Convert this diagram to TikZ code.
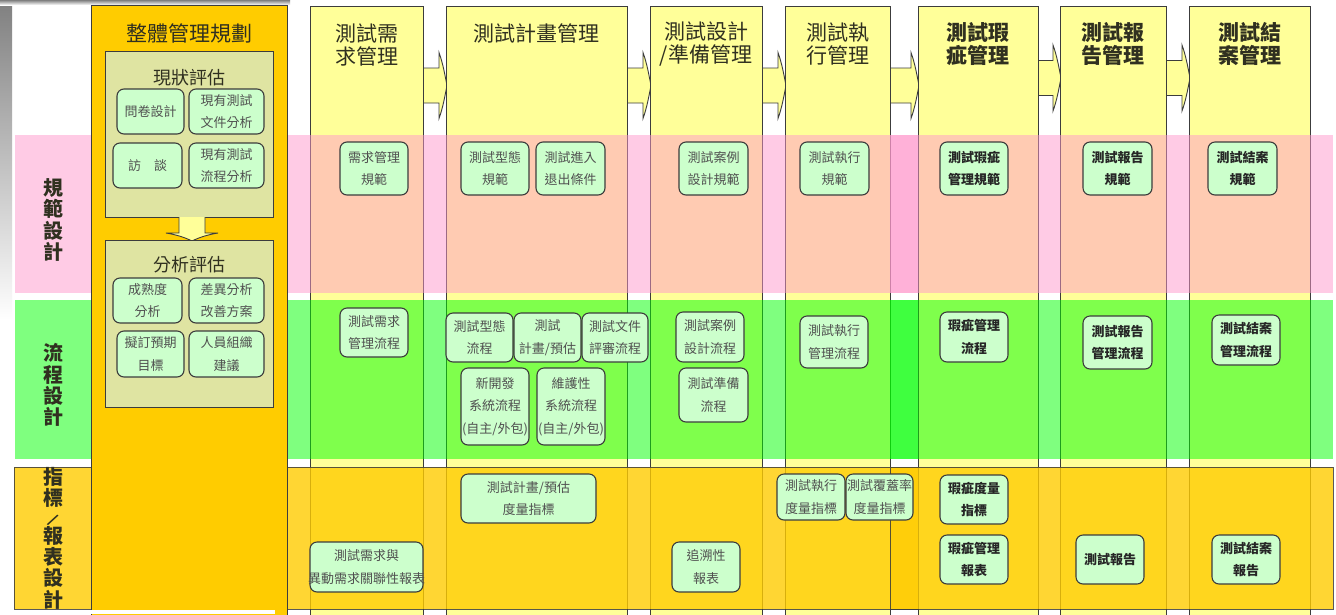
\documentclass[tikz,border=0pt]{standalone}
\usepackage{fontspec}
\usepackage{graphicx}
\setmainfont{Noto Sans CJK TC}
\definecolor{colY}{HTML}{FFFF99}
\definecolor{colO}{HTML}{FFCC00}
\definecolor{bandP}{HTML}{FF99CC}
\definecolor{bandG}{HTML}{00FF00}
\definecolor{bandO}{HTML}{FFCC00}
\definecolor{boxG}{HTML}{CCFFCC}
\definecolor{panel}{HTML}{DFE4A2}
\definecolor{edge}{HTML}{3C3C3C}
\definecolor{txt}{HTML}{505050}
\definecolor{htxt}{HTML}{303020}
\definecolor{shade}{HTML}{F0F0F0}
\newcommand{\blkarrowH}[3]{%
  \draw[fill=colY, draw=edge, line width=0.9pt]
    (#1,#3-17.5) -- (#2-7,#3-17.5) -- (#2-7,#3-33)
    .. controls (#2-3,#3-22) and (#2-1,#3-10) .. (#2+1,#3)
    .. controls (#2-1,#3+10) and (#2-3,#3+22) .. (#2-7,#3+33)
    -- (#2-7,#3+17.5) -- (#1,#3+17.5);}
\tikzset{
  colbox/.style={fill=colY, draw=edge, line width=0.9pt},
  bx/.style={rectangle, rounded corners=7pt, fill=boxG, draw=edge, line width=1.1pt,
    align=center, inner sep=0pt, font=\fontsize{13}{22.5}\selectfont, text=txt},
  bxb/.style={bx, font=\fontsize{13}{22.5}\selectfont\bfseries, text=black!85},
  hd/.style={align=center, inner sep=0pt, font=\fontsize{21}{22.5}\selectfont, text=htxt},
  hdb/.style={hd, font=\fontsize{21}{22.5}\selectfont\bfseries},
  sub/.style={align=center, inner sep=0pt, font=\fontsize{18}{20}\selectfont, text=htxt},
  rowlab/.style={align=center, inner sep=0pt, font=\fontsize{20}{21.3}\selectfont\bfseries, text=htxt},
  pnl/.style={fill=panel, draw=edge, line width=1pt},
}
\begin{document}
\begin{tikzpicture}[x=1pt, y=-1pt]
\useasboundingbox (0,0) rectangle (1336,614);
\fill[white] (0,0) rectangle (1336,614);
\fill[shade] (0,0) rectangle (12,320);
\fill[shade] (0,0) rectangle (290,5);

% block arrows between stage columns
\blkarrowH{423}{446}{85.5}
\blkarrowH{627}{650}{85.5}
\blkarrowH{762}{785}{85.5}
\blkarrowH{890}{918}{85.5}
\blkarrowH{1038}{1060}{78}
\blkarrowH{1166}{1189}{78}

% stage columns
\path[colbox] (310,6) rectangle (423,617);
\path[colbox] (446,6) rectangle (627,617);
\path[colbox] (650,6) rectangle (762,617);
\path[colbox] (785,6) rectangle (890,617);
\path[colbox] (918,6) rectangle (1038,617);
\path[colbox] (1060,6) rectangle (1166,617);
\path[colbox] (1189,6) rectangle (1310,617);

% horizontal bands (translucent)
\fill[bandP, fill opacity=0.5] (15,135) rectangle (918,293);
\fill[bandP, fill opacity=0.5] (890,135) rectangle (1333,293);
\fill[bandG, fill opacity=0.5] (15,300) rectangle (918,459);
\fill[bandG, fill opacity=0.5] (890,300) rectangle (1333,459);
\path[fill=bandO, fill opacity=0.8, draw=edge, draw opacity=0.85, line width=1pt] (14,467) rectangle (918,609);
\path[fill=bandO, fill opacity=0.8, draw=edge, draw opacity=0.85, line width=1pt] (890,467) rectangle (1333,609);

% overall planning column
\path[fill=colO, draw=edge, line width=1pt] (91,5) rectangle (287,617);
\node[hd] (h1) at (189,33) {整體管理規劃};
\path[pnl] (105,51) rectangle (273,217);
\node[sub] (s1) at (189,78) {現狀評估};
\draw[fill=colY, draw=edge, line width=0.9pt]
  (179,217) -- (179,233) -- (166,233)
  .. controls (178,235) and (186,238) .. (192,241)
  .. controls (198,238) and (206,235) .. (218,233)
  -- (205,233) -- (205,217);
\path[pnl] (105,240) rectangle (273,407);
\node[sub] (s2) at (189,265) {分析評估};

\node[bx, minimum width=67pt, minimum height=45pt] (q1) at (150.5,111.5) {問卷設計};
\node[bx, minimum width=75pt, minimum height=45pt] (q2) at (226.5,111.5) {現有測試\\文件分析};
\node[bx, minimum width=69pt, minimum height=45pt] (q3) at (147.5,165.5) {訪　談};
\node[bx, minimum width=75pt, minimum height=45pt] (q4) at (226.5,165.5) {現有測試\\流程分析};
\node[bx, minimum width=69pt, minimum height=45pt] (a1) at (147.5,300.5) {成熟度\\分析};
\node[bx, minimum width=75pt, minimum height=45pt] (a2) at (226.5,300.5) {差異分析\\改善方案};
\node[bx, minimum width=67pt, minimum height=46pt] (a3) at (150.5,354) {擬訂預期\\目標};
\node[bx, minimum width=75pt, minimum height=46pt] (a4) at (226.5,354) {人員組織\\建議};

% row labels
\node[rowlab] (r1) at (53,220) {規\\範\\設\\計};
\node[rowlab] (r2) at (53,385) {流\\程\\設\\計};
\node[rowlab] (r3) at (53,538) {指\\標\\[-2pt]\smash{\scalebox{0.7}{\rotatebox[origin=c]{-35}{/}}}\\[-3pt]報\\表\\設\\計};

% column headers
\node[hd] (h2) at (366.5,45) {測試需\\求管理};
\node[hd] (h3) at (536.5,33.5) {測試計畫管理};
\node[hd] (h4) at (706,44) {測試設計\\/準備管理};
\node[hd] (h5) at (837.5,44) {測試執\\行管理};
\node[hdb] (h6) at (978,44) {測試瑕\\疵管理};
\node[hdb] (h7) at (1113,44) {測試報\\告管理};
\node[hdb] (h8) at (1249.5,44) {測試結\\案管理};

% specification row
\node[bx, minimum width=68pt, minimum height=53pt] (p2) at (374,168.5) {需求管理\\規範};
\node[bx, minimum width=68pt, minimum height=53pt] (p3a) at (495,168.5) {測試型態\\規範};
\node[bx, minimum width=69pt, minimum height=53pt] (p3b) at (570.5,168.5) {測試進入\\退出條件};
\node[bx, minimum width=69pt, minimum height=53pt] (p4) at (713.5,168.5) {測試案例\\設計規範};
\node[bx, minimum width=69pt, minimum height=53pt] (p5) at (834.5,168.5) {測試執行\\規範};
\node[bxb, minimum width=68pt, minimum height=53pt] (p6) at (974,168.5) {測試瑕疵\\管理規範};
\node[bxb, minimum width=69pt, minimum height=53pt] (p7) at (1117.5,168.5) {測試報告\\規範};
\node[bxb, minimum width=69pt, minimum height=53pt] (p8) at (1242.5,168.5) {測試結案\\規範};

% process row
\node[bx, minimum width=68pt, minimum height=49pt] (g2) at (374,332.5) {測試需求\\管理流程};
\node[bx, minimum width=67pt, minimum height=49pt] (g3a) at (479.5,337.5) {測試型態\\流程};
\node[bx, minimum width=67pt, minimum height=49pt] (g3b) at (547.5,337.5) {測試\\計畫/預估};
\node[bx, minimum width=66pt, minimum height=49pt] (g3c) at (615,337.5) {測試文件\\評審流程};
\node[bx, minimum width=68pt, minimum height=77pt] (g3d) at (495,406.5) {新開發\\系統流程\\(自主/外包)};
\node[bx, minimum width=68pt, minimum height=77pt] (g3e) at (571,406.5) {維護性\\系統流程\\(自主/外包)};
\node[bx, minimum width=68pt, minimum height=50pt] (g4a) at (710,337) {測試案例\\設計流程};
\node[bx, minimum width=69pt, minimum height=54pt] (g4b) at (713.5,395) {測試準備\\流程};
\node[bx, minimum width=68pt, minimum height=52pt] (g5) at (834,342) {測試執行\\管理流程};
\node[bxb, minimum width=68pt, minimum height=50pt] (g6) at (974,337) {瑕疵管理\\流程};
\node[bxb, minimum width=69pt, minimum height=53pt] (g7) at (1117.5,342.5) {測試報告\\管理流程};
\node[bxb, minimum width=68pt, minimum height=50pt] (g8) at (1246,340) {測試結案\\管理流程};

% metrics / report row
\node[bx, inner xsep=-2pt, minimum width=113pt, minimum height=50pt] (o2) at (366.5,567) {測試需求與\\異動需求關聯性報表};
\node[bx, minimum width=135pt, minimum height=49pt] (o3) at (528.5,498.5) {測試計畫/預估\\度量指標};
\node[bx, minimum width=68pt, minimum height=50pt] (o4) at (706,567) {追溯性\\報表};
\node[bx, minimum width=68pt, minimum height=46pt] (o5a) at (811,497) {測試執行\\度量指標};
\node[bx, minimum width=67pt, minimum height=46pt] (o5b) at (879.5,497) {測試覆蓋率\\度量指標};
\node[bxb, minimum width=68pt, minimum height=49pt] (o6a) at (974,499.5) {瑕疵度量\\指標};
\node[bxb, minimum width=68pt, minimum height=49pt] (o6b) at (974,559.5) {瑕疵管理\\報表};
\node[bxb, minimum width=68pt, minimum height=49pt] (o7) at (1110,559.5) {測試報告};
\node[bxb, minimum width=68pt, minimum height=49pt] (o8) at (1246,559.5) {測試結案\\報告};

\fill[white] (47,609.5) rectangle (275,614);
\end{tikzpicture}
\end{document}
